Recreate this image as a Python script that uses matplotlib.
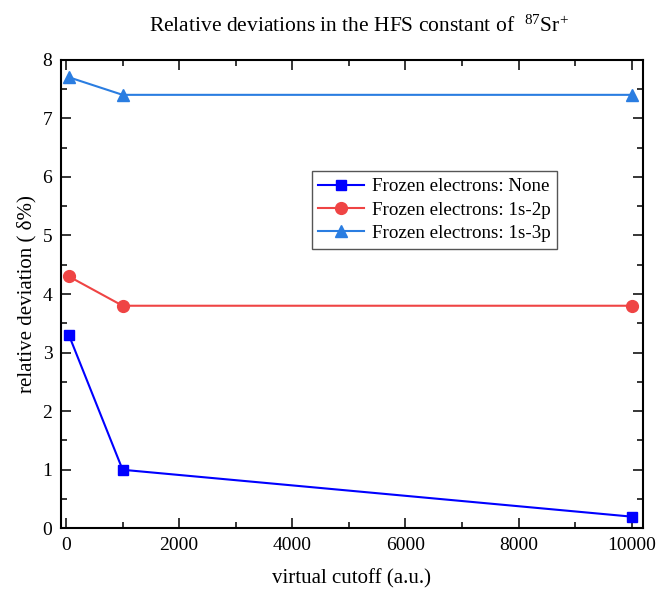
import matplotlib
matplotlib.use('Agg')
from matplotlib import pyplot
from matplotlib.ticker import MultipleLocator

pyplot.rcParams['font.family'] = ['Liberation Serif', 'DejaVu Serif']
pyplot.rcParams['mathtext.fontset'] = 'custom'
pyplot.rcParams['mathtext.rm'] = 'Liberation Serif'
pyplot.rcParams['mathtext.it'] = 'Liberation Serif:italic'

cutoff = [50, 1000, 10000]
dev_none = [3.3, 1.0, 0.2]
dev_1s2p = [4.3, 3.8, 3.8]
dev_1s3p = [7.7, 7.4, 7.4]

series = [
    ('Frozen electrons: None', dev_none, '#0000ff', 's', 7.5),
    ('Frozen electrons: 1s-2p', dev_1s2p, '#ef4444', 'o', 8.5),
    ('Frozen electrons: 1s-3p', dev_1s3p, '#2a7de1', '^', 8.5),
]

fig = pyplot.figure(figsize=(6.56, 5.91), dpi=100)
ax = fig.add_axes([0.0925, 0.106, 0.888, 0.793])

for label, vals, color, marker, ms in series:
    ax.plot(cutoff, vals, color=color, marker=marker, markersize=ms,
            linewidth=1.5, label=label)

ax.set_xlim(-95, 10205)
ax.set_ylim(0, 8)
ax.xaxis.set_major_locator(MultipleLocator(2000))
ax.xaxis.set_minor_locator(MultipleLocator(1000))
ax.yaxis.set_major_locator(MultipleLocator(1))
ax.yaxis.set_minor_locator(MultipleLocator(0.5))
ax.tick_params(which='both', direction='in', top=True, right=True, labelsize=14)
ax.tick_params(which='major', length=7, width=1.1, pad=6)
ax.tick_params(which='minor', length=4, width=1.1)
for sp in ax.spines.values():
    sp.set_linewidth(1.5)

ax.set_title(r'Relative deviations in the HFS constant of  $^{87}$Sr$^{+}$',
             fontsize=15.5, pad=20, x=0.512)
ax.set_xlabel('virtual cutoff (a.u.)', fontsize=15, labelpad=11)
ax.set_ylabel('relative deviation ( δ%)', fontsize=15, labelpad=4)

leg = ax.legend(loc='upper left', bbox_to_anchor=(0.431, 0.762), fontsize=13.7,
                fancybox=False, edgecolor='#555555', framealpha=1,
                borderpad=0.35, labelspacing=0.32, handlelength=2.4,
                handletextpad=0.4, borderaxespad=0)
leg.get_frame().set_linewidth(1.0)

pyplot.savefig('out.png', dpi=100)
